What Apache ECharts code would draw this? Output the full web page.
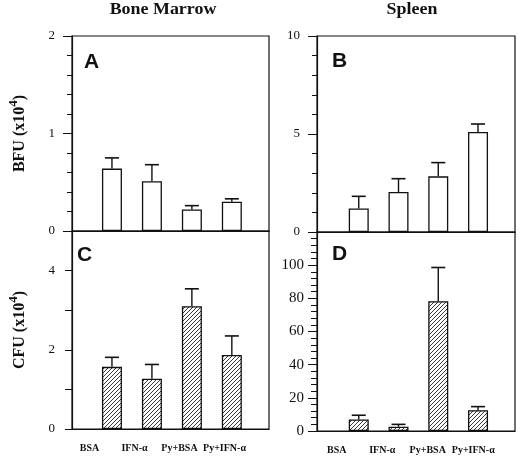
<!DOCTYPE html>
<html><head><meta charset="utf-8">
<script src="https://cdn.jsdelivr.net/npm/echarts@6/dist/echarts.min.js"></script>
<style>html,body{margin:0;padding:0;background:#fff}#c{width:520px;height:456px}</style>
</head><body><div id="c"></div>
<script>
// ---- data ----
const categories = ['BSA', 'IFN-α', 'Py+BSA', 'Py+IFN-α'];
const barPositions = [1, 2, 3, 4];
const bmBFU = [0.64, 0.51, 0.22, 0.30];
const bmBFUErr = [0.11, 0.17, 0.04, 0.03];
const spBFU = [1.20, 2.04, 2.84, 5.10];
const spBFUErr = [0.62, 0.68, 0.70, 0.41];
const bmCFU = [1.57, 1.27, 3.10, 1.87];
const bmCFUErr = [0.24, 0.36, 0.44, 0.48];
const spCFU = [7.0, 2.6, 78.3, 12.5];
const spCFUErr = [2.5, 1.4, 20.3, 2.2];

// ---- hatch pattern ----
function makeHatch() {
  const s = 4;
  const cv = document.createElement('canvas');
  cv.width = s; cv.height = s;
  const g = cv.getContext('2d');
  g.fillStyle = '#fff'; g.fillRect(0, 0, s, s);
  g.strokeStyle = '#222'; g.lineWidth = 0.9;
  g.beginPath();
  g.moveTo(0, s); g.lineTo(s, 0);
  g.moveTo(-1, 1); g.lineTo(1, -1);
  g.moveTo(s - 1, s + 1); g.lineTo(s + 1, s - 1);
  g.stroke();
  return cv;
}
const hatch = { image: makeHatch(), repeat: 'repeat' };

const serif = 'Liberation Serif';

const panels = [
  { left: 72, top: 36, width: 197, height: 195, xmin: 0, xmax: 4.93 },
  { left: 317, top: 36, width: 198, height: 196, xmin: -0.05, xmax: 4.93 },
  { left: 72, top: 231, width: 197, height: 198, xmin: 0, xmax: 4.93 },
  { left: 317, top: 232, width: 198, height: 199, xmin: -0.05, xmax: 4.93 }
];

const grids = panels.map(p => ({
  left: p.left, top: p.top, width: p.width, height: p.height,
  show: true, borderColor: '#111', borderWidth: 1.2, backgroundColor: 'transparent'
}));
grids.push({ left: 67, top: 231, width: 180, height: 198 });
grids.push({ left: 314, top: 232, width: 182, height: 199 });

const xAxes = panels.map((p, i) => ({
  gridIndex: i, type: 'value', min: p.xmin, max: p.xmax,
  axisLine: { show: true, onZero: false, lineStyle: { color: '#111', width: 1.2 } },
  axisTick: { show: false }, axisLabel: { show: false }, splitLine: { show: false }
}));
[4, 5].forEach(gi => xAxes.push({
  gridIndex: gi, type: 'category', data: categories, boundaryGap: true,
  axisLine: { show: false }, axisTick: { show: false }, splitLine: { show: false },
  axisLabel: { interval: 0, margin: 14, fontFamily: serif, fontWeight: 'bold', fontSize: 10, color: '#111' }
}));

const labelBase = { fontFamily: serif, fontSize: 13, color: '#111' };
const yLine = { show: true, onZero: false, lineStyle: { color: '#111', width: 1.2 } };
const nameRich = {
  a: { fontFamily: serif, fontWeight: 'bold', fontSize: 16, color: '#111', verticalAlign: 'bottom' },
  s: { fontFamily: serif, fontWeight: 'bold', fontSize: 13, color: '#111', verticalAlign: 'bottom', padding: [0, 0, 8, 0] }
};
const yAxes = [
  { gridIndex: 0, type: 'value', min: 0, max: 2, interval: 1,
    name: '{a|BFU (x10}{s|4}{a|)}', nameLocation: 'middle', nameRotate: 90, nameGap: 44,
    nameTextStyle: { rich: nameRich },
    axisLine: yLine, axisTick: { show: true, length: 9, lineStyle: { color: '#111' } },
    minorTick: { show: true, splitNumber: 5, length: 5, lineStyle: { color: '#111' } },
    axisLabel: Object.assign({ margin: 17 }, labelBase), splitLine: { show: false }, minorSplitLine: { show: false } },
  { gridIndex: 1, type: 'value', min: 0, max: 10, interval: 5,
    axisLine: yLine, axisTick: { show: true, length: 9, lineStyle: { color: '#111' } },
    minorTick: { show: true, splitNumber: 5, length: 5, lineStyle: { color: '#111' } },
    axisLabel: Object.assign({ margin: 17 }, labelBase), splitLine: { show: false } },
  { gridIndex: 2, type: 'value', min: 0, max: 5, interval: 1,
    name: '{a|CFU (x10}{s|4}{a|)}', nameLocation: 'middle', nameRotate: 90, nameGap: 44,
    nameTextStyle: { rich: nameRich },
    axisLine: yLine, axisTick: { show: true, length: 7, lineStyle: { color: '#111' } },
    axisLabel: Object.assign({ margin: 17, formatter: v => (v % 2 === 0 && v < 5) ? String(v) : '' }, labelBase),
    splitLine: { show: false } },
  { gridIndex: 3, type: 'value', min: 0, max: 120, interval: 20,
    axisLine: yLine, axisTick: { show: true, length: 9, lineStyle: { color: '#111' } },
    minorTick: { show: true, splitNumber: 5, length: 6, lineStyle: { color: '#111' } },
    axisLabel: Object.assign({ margin: 13, showMaxLabel: false }, labelBase, { fontSize: 15 }),
    splitLine: { show: false } },
  { gridIndex: 4, type: 'value', show: false },
  { gridIndex: 5, type: 'value', show: false }
];

function errItem(params, api) {
  const x = api.value(0), v = api.value(1), e = api.value(2);
  const p0 = api.coord([x, v]), p1 = api.coord([x, v + e]);
  return { type: 'group', children: [
    { type: 'line', shape: { x1: p0[0], y1: p0[1], x2: p1[0], y2: p1[1] }, style: { stroke: '#111', lineWidth: 1.4 } },
    { type: 'line', shape: { x1: p1[0] - 7, y1: p1[1], x2: p1[0] + 7, y2: p1[1] }, style: { stroke: '#111', lineWidth: 1.6 } }
  ] };
}

const sets = [
  [bmBFU, bmBFUErr, '#fff'],
  [spBFU, spBFUErr, '#fff'],
  [bmCFU, bmCFUErr, hatch],
  [spCFU, spCFUErr, hatch]
];
const series = [];
sets.forEach(([vals, errs, fill], i) => {
  series.push({
    type: 'custom', xAxisIndex: i, yAxisIndex: i, renderItem: errItem,
    encode: { x: 0, y: 1 }, z: 1,
    data: barPositions.map((x, k) => [x, vals[k], errs[k]])
  });
  series.push({
    type: 'bar', xAxisIndex: i, yAxisIndex: i, barWidth: 20, z: 2,
    itemStyle: { color: fill, borderColor: '#111', borderWidth: 1.3 },
    data: barPositions.map((x, k) => [x, vals[k]])
  });
});

const titleFont = 'bold 16px "Liberation Serif"';
const letterFont = 'bold 21px "Liberation Sans"';
const graphic = [
  { type: 'text', x: 163, y: 10, scaleX: 1.12, style: { text: 'Bone Marrow', font: titleFont, fill: '#111', textAlign: 'center', textVerticalAlign: 'middle' } },
  { type: 'text', x: 412, y: 10, scaleX: 1.12, style: { text: 'Spleen', font: titleFont, fill: '#111', textAlign: 'center', textVerticalAlign: 'middle' } },
  { type: 'text', x: 84, y: 62, style: { text: 'A', font: letterFont, fill: '#111', textVerticalAlign: 'middle' } },
  { type: 'text', x: 332, y: 61, style: { text: 'B', font: letterFont, fill: '#111', textVerticalAlign: 'middle' } },
  { type: 'text', x: 77, y: 255, style: { text: 'C', font: letterFont, fill: '#111', textVerticalAlign: 'middle' } },
  { type: 'text', x: 332, y: 254, style: { text: 'D', font: letterFont, fill: '#111', textVerticalAlign: 'middle' } }
];

const chart = echarts.init(document.getElementById('c'));
chart.setOption({
  animation: false,
  backgroundColor: '#fff',
  grid: grids, xAxis: xAxes, yAxis: yAxes, series: series, graphic: graphic
});
</script></body></html>
